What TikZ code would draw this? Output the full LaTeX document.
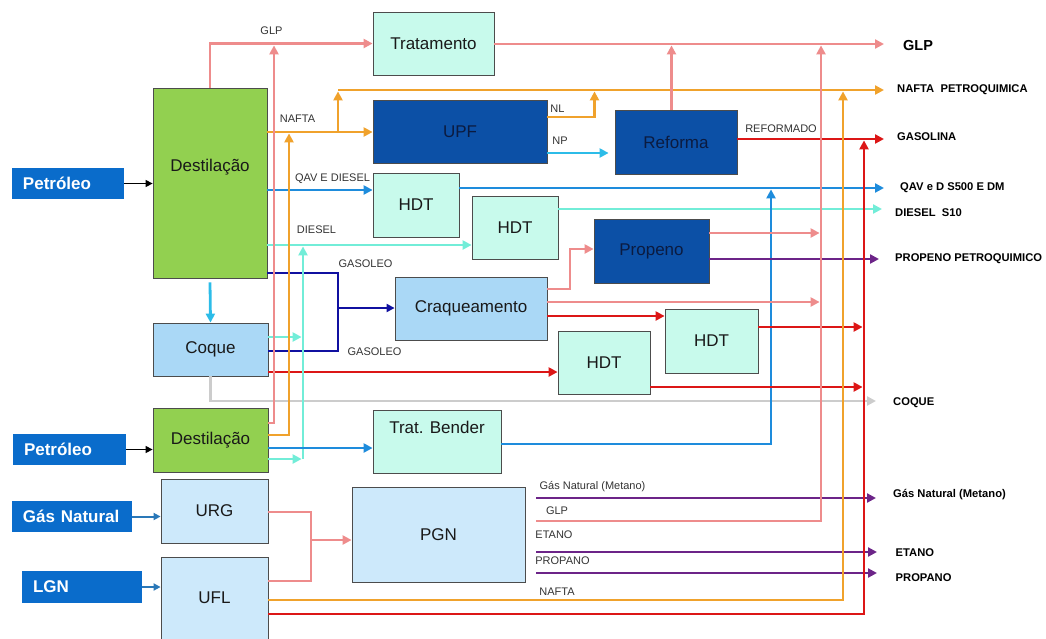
\documentclass[tikz,border=0pt]{standalone}
\usepackage{fontspec}
\setmainfont{Liberation Sans}
\usetikzlibrary{arrows.meta}
\definecolor{verde}{HTML}{92D050}
\definecolor{menta}{HTML}{C8FAEC}
\definecolor{azulesc}{HTML}{0C50A6}
\definecolor{txtesc}{HTML}{0B1B40}
\definecolor{azulfonte}{HTML}{0A6CCB}
\definecolor{azulclaro}{HTML}{AAD8F6}
\definecolor{azulpalido}{HTML}{CDE9FB}
\definecolor{rosa}{HTML}{EE8C8C}
\definecolor{laranja}{HTML}{F0A22C}
\definecolor{azulqav}{HTML}{1E8CDC}
\definecolor{aqua}{HTML}{72EDD8}
\definecolor{marinho}{HTML}{1010A0}
\definecolor{vermelho}{HTML}{DC1616}
\definecolor{cinza}{HTML}{CCCCCC}
\definecolor{roxo}{HTML}{6C2488}
\definecolor{ciano}{HTML}{2CBCE8}
\definecolor{aco}{HTML}{2A78B8}

\begin{document}
\begin{tikzpicture}[x=1pt,y=-1pt,
  caixa/.style={draw=black!70,line width=0.8pt,inner sep=0pt,text=black!90,font=\fontsize{17}{20}\selectfont},
  fonte/.style={fill=azulfonte,text=white,inner xsep=11pt,inner ysep=0pt,align=left,font=\bfseries\fontsize{17}{20}\selectfont},
  fluxo/.style={line width=2.8pt,-{Triangle[length=9pt,width=9pt]}},
  linha/.style={line width=2.8pt},
  entrada/.style={line width=1.4pt,-{Triangle[length=7pt,width=7pt]}},
  rot/.style={text=black!80,font=\fontsize{11}{13}\selectfont,inner sep=0pt},
  saida/.style={anchor=west,inner sep=0pt,font=\bfseries\fontsize{11.2}{13}\selectfont}]
\useasboundingbox (0,0) rectangle (1046,638);

% entradas
\node[fonte,text width=90pt,minimum height=31pt] (pet1) at (68,183.5) {Petróleo};
\node[fonte,text width=91pt,minimum height=31pt] (pet2) at (69.5,449.5) {Petróleo};
\node[fonte,text width=98pt,minimum height=31pt] (gn) at (72,516.5) {Gás Natural};
\node[fonte,text width=98pt,minimum height=32pt] (lgn) at (82,587) {LGN};

% unidades
\node[caixa,fill=menta,minimum width=121pt,minimum height=63pt] (trat) at (433.5,43.5) {Tratamento};
\node[caixa,fill=verde,minimum width=114pt,minimum height=190pt] (dest1) at (210,183) {};
\node[caixa,draw=none] (dest1t) at (210,167) {Destilação};
\node[caixa,fill=azulesc,text=txtesc,minimum width=174pt,minimum height=63pt] (upf) at (460,131.5) {UPF};
\node[caixa,fill=menta,minimum width=86pt,minimum height=64pt] (hdt1) at (416,205) {HDT};
\node[caixa,fill=menta,minimum width=86pt,minimum height=63pt] (hdt2) at (515,227.5) {HDT};
\node[caixa,fill=azulclaro,minimum width=152pt,minimum height=63pt] (craq) at (471,308.5) {Craqueamento};
\node[caixa,fill=azulesc,text=txtesc,minimum width=122pt,minimum height=64pt] (ref) at (676,142) {Reforma};
\node[caixa,fill=azulesc,text=txtesc,minimum width=115pt,minimum height=64pt] (prop) at (651.5,251) {Propeno};
\node[caixa,fill=menta,minimum width=93pt,minimum height=64pt] (hdt3) at (711.5,341) {HDT};
\node[caixa,fill=menta,minimum width=92pt,minimum height=63pt] (hdt4) at (604,362.5) {HDT};
\node[caixa,fill=azulclaro,minimum width=115pt,minimum height=53pt] (coque) at (210.5,349.5) {Coque};
\node[caixa,fill=verde,minimum width=115pt,minimum height=64pt] (dest2) at (210.5,440) {Destilação};
\node[caixa,fill=menta,minimum width=128pt,minimum height=63pt] (bender) at (437,441.5) {};
\node[caixa,draw=none] (bendert) at (437,427) {Trat. Bender};
\node[caixa,fill=azulpalido,minimum width=107pt,minimum height=64pt] (urg) at (214.5,511) {URG};
\node[caixa,fill=azulpalido,minimum width=107pt,minimum height=82pt] (ufl) at (214.5,598) {UFL};
\node[caixa,fill=azulpalido,minimum width=173pt,minimum height=95pt] (pgn) at (438.5,534.5) {PGN};

% produtos
\coordinate (sGLP) at (884,44);
\coordinate (sNPQ) at (884,90);
\coordinate (sGAS) at (884,139);
\coordinate (sQAV) at (884,188);
\coordinate (sS10) at (882,209);
\coordinate (sPRP) at (879,259);
\coordinate (sCOQ) at (876,401);
\coordinate (sGN) at (876,498);
\coordinate (sET) at (877,552);
\coordinate (sPR) at (877,573);
\node[saida,font=\bfseries\fontsize{14.5}{16}\selectfont] (tGLP) at (903,46) {GLP};
\node[saida] (tNPQ) at (897,90) {NAFTA\ \ PETROQUIMICA};
\node[saida] (tGAS) at (897,137) {GASOLINA};
\node[saida] (tQAV) at (900,188) {QAV e D S500 E DM};
\node[saida] (tS10) at (895,213) {DIESEL\ \ S10};
\node[saida] (tPRP) at (895,259) {PROPENO PETROQUIMICO};
\node[saida] (tCOQ) at (893,403) {COQUE};
\node[saida] (tGN) at (893,495) {Gás Natural (Metano)};
\node[saida] (tET) at (895.5,553) {ETANO};
\node[saida] (tPR) at (895.5,578) {PROPANO};

% juncoes
\coordinate (jNafta) at (338,132);
\coordinate (jNPQ) at (338,90);
\coordinate (jGasoleo) at (338,308);
\coordinate (jUPF) at (594.5,90);
\coordinate (jRef) at (671.5,44);
\coordinate (jCraq) at (570,249);
\coordinate (jBender) at (771,188);
\coordinate (busGLPd) at (274,44);
\coordinate (busNafd) at (289,132);
\coordinate (busDiesel) at (303,245);
\coordinate (busGLP) at (821,44);
\coordinate (busNPQ) at (843,90);
\coordinate (busGAS) at (864,139);
\coordinate (jPGN) at (311,540);

% entradas
\draw[entrada] (pet1.east) -- (dest1.west |- pet1.east);
\draw[entrada] (pet2.east) -- (dest2.west |- pet2.east);
\draw[aco,entrada,line width=2pt] (gn.east) -- (urg.west |- gn.east);
\draw[aco,entrada,line width=2pt] (lgn.east) -- (ufl.west |- lgn.east);

% Destilacao
\draw[rosa,fluxo] (dest1.north) |- (trat.west);
\draw[laranja,fluxo] (dest1.east |- jNafta) -- (upf.west |- jNafta);
\draw[laranja,fluxo,shorten >=1.4pt] (jNafta) -- (jNPQ);
\draw[laranja,fluxo] (jNPQ) -- (sNPQ);
\draw[azulqav,fluxo] (dest1.east |- 0,190) -- (hdt1.west |- 0,190);
\draw[aqua,fluxo] (dest1.east |- busDiesel) -- (hdt2.west |- busDiesel);
\draw[marinho,line width=2.2pt,-{Triangle[length=8pt,width=8pt]}] (dest1.east |- 0,273) -| (jGasoleo) -- (craq.west |- jGasoleo);
\draw[ciano,fluxo] ([yshift=-4pt]dest1.south) -- (coque.north);

% Coque
\draw[marinho,line width=2.2pt] (coque.east |- 0,351) -| (jGasoleo);
\draw[aqua,fluxo] (coque.east |- 0,337) -- (301.6,337);
\draw[vermelho,fluxo] (coque.east |- 0,372) -- (hdt4.west |- 0,372);
\draw[cinza,fluxo] (coque.south) |- (sCOQ);

% Destilacao 2
\draw[rosa,fluxo,shorten >=1.4pt] (dest2.east |- 0,423) -| (busGLPd);
\draw[laranja,fluxo,shorten >=1.4pt] (dest2.east |- 0,435) -| (busNafd);
\draw[aqua,fluxo,shorten >=1.4pt] (busDiesel |- 0,459) -- (busDiesel);
\draw[aqua,fluxo] (dest2.east |- 0,459) -- (301.6,459);
\draw[azulqav,fluxo] (dest2.east |- 0,448) -- (bender.west |- 0,448);

% UPF e Reforma
\draw[laranja,fluxo,shorten >=1.4pt] (upf.east |- 0,117) -| (jUPF);
\draw[ciano,fluxo] (upf.east |- 0,153) -- ([xshift=-6pt]ref.west |- 0,153);
\draw[rosa,fluxo,shorten >=1.4pt] (ref.north -| jRef) -- (jRef);
\draw[vermelho,fluxo] (ref.east |- sGAS) -- (sGAS);
\draw[rosa,fluxo] (trat.east |- sGLP) -- (sGLP);

% HDT
\draw[azulqav,fluxo] (hdt1.east |- sQAV) -- (sQAV);
\draw[aqua,fluxo] (hdt2.east |- sS10) -- (sS10);
\draw[azulqav,fluxo,shorten >=1.4pt] (bender.east |- 0,444) -| (jBender);

% Craqueamento e Propeno
\draw[rosa,fluxo] (craq.east |- 0,289) -| (jCraq) -- (prop.west |- jCraq);
\draw[rosa,fluxo,shorten >=1.4pt] (craq.east |- 0,302) -- (busGLP |- 0,302);
\draw[vermelho,fluxo] (craq.east |- 0,316) -- (hdt3.west |- 0,316);
\draw[rosa,fluxo,shorten >=1.4pt] (prop.east |- 0,233) -- (busGLP |- 0,233);
\draw[roxo,fluxo] (prop.east |- sPRP) -- (sPRP);
\draw[vermelho,fluxo,shorten >=1.4pt] (hdt3.east |- 0,327) -- (busGAS |- 0,327);
\draw[vermelho,fluxo,shorten >=1.4pt] (hdt4.east |- 0,387) -- (busGAS |- 0,387);

% URG, UFL e PGN
\draw[rosa,linha] (urg.east |- 0,512) -| (jPGN |- 0,581) -- (ufl.east |- 0,581);
\draw[rosa,fluxo] (jPGN) -- (pgn.west |- jPGN);
\draw[roxo,fluxo] ([xshift=11pt]pgn.east |- sGN) -- (sGN);
\draw[rosa,fluxo,shorten >=1.4pt] ([xshift=11pt]pgn.east |- 0,521) -| (busGLP);
\draw[roxo,fluxo] ([xshift=11pt]pgn.east |- sET) -- (sET);
\draw[roxo,fluxo] ([xshift=11pt]pgn.east |- sPR) -- (sPR);
\draw[laranja,fluxo,shorten >=1.4pt] (ufl.east |- 0,600) -| (busNPQ);
\draw[vermelho,fluxo,shorten >=1.4pt] (ufl.east |- 0,614) -| (busGAS);

% rotulos
\node[rot] (lGLP) at (271.5,31) {GLP};
\node[rot] (lNafta) at (297.5,119) {NAFTA};
\node[rot] (lQav) at (332.5,179) {QAV E DIESEL};
\node[rot] (lDiesel) at (316.5,230) {DIESEL};
\node[rot] (lGas1) at (365.5,264) {GASOLEO};
\node[rot] (lGas2) at (374.5,352) {GASOLEO};
\node[rot] (lNL) at (557.5,109) {NL};
\node[rot] (lNP) at (560,141) {NP};
\node[rot] (lRef) at (781,129) {REFORMADO};
\node[rot] (lGN) at (592.5,487) {Gás Natural (Metano)};
\node[rot] (lGLP2) at (557,511) {GLP};
\node[rot] (lET) at (554,535) {ETANO};
\node[rot] (lPR) at (562.5,561) {PROPANO};
\node[rot] (lNafta2) at (557,592) {NAFTA};
\end{tikzpicture}
\end{document}
